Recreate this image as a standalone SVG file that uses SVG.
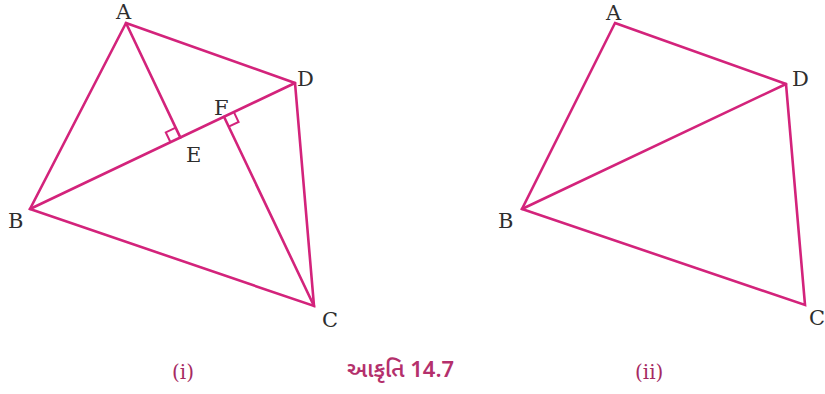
<svg xmlns="http://www.w3.org/2000/svg" width="825" height="394" viewBox="0 0 825 394">
<style>
.ln{stroke:#d3237b;stroke-width:2.6;fill:none;stroke-linejoin:miter;stroke-linecap:round}
.sq{stroke:#d3237b;stroke-width:2;fill:none}
.lb{font-family:"DejaVu Serif","Liberation Serif",serif;font-size:21px;fill:#2e2e2e}
.cap{font-family:"DejaVu Serif","Liberation Serif",serif;font-size:20px;fill:#a62a62}
.guj{font-family:"Noto Sans Gujarati","Noto Sans",sans-serif;font-size:22px;font-weight:600;fill:#b4306c}
</style>
<rect width="825" height="394" fill="#ffffff"/>
<g id="connectors">
<polygon class="ln" points="126,23 295,83 314,306 30,209"/>
<line class="ln" x1="30" y1="209" x2="295" y2="83"/>
<line class="ln" x1="126" y1="23" x2="180.4" y2="137.6"/>
<line class="ln" x1="314" y1="306" x2="224" y2="116.8"/>
<polyline class="sq" points="170.5,142.3 165.8,132.4 175.7,127.7"/>
<polyline class="sq" points="233.9,112.1 238.6,122 228.7,126.7"/>
<polygon class="ln" points="615,23 786,84 805,305 522,209"/>
<line class="ln" x1="522" y1="209" x2="786" y2="84"/>
</g>
<g id="fig1-labels">
<text class="lb" x="116" y="19">A</text>
<text class="lb" x="297" y="86">D</text>
<text class="lb" x="8" y="228">B</text>
<text class="lb" x="322" y="327">C</text>
<text class="lb" x="186" y="162">E</text>
<text class="lb" x="214" y="115">F</text>
</g>
<g id="fig2-labels">
<text class="lb" x="606" y="20">A</text>
<text class="lb" x="792" y="86">D</text>
<text class="lb" x="498" y="228">B</text>
<text class="lb" x="809" y="325">C</text>
</g>
<g id="captions">
<text class="cap" x="172" y="379">(i)</text>
<text class="guj" x="347" y="377">આકૃતિ 14.7</text>
<text class="cap" x="635" y="379">(ii)</text>
</g>
</svg>
